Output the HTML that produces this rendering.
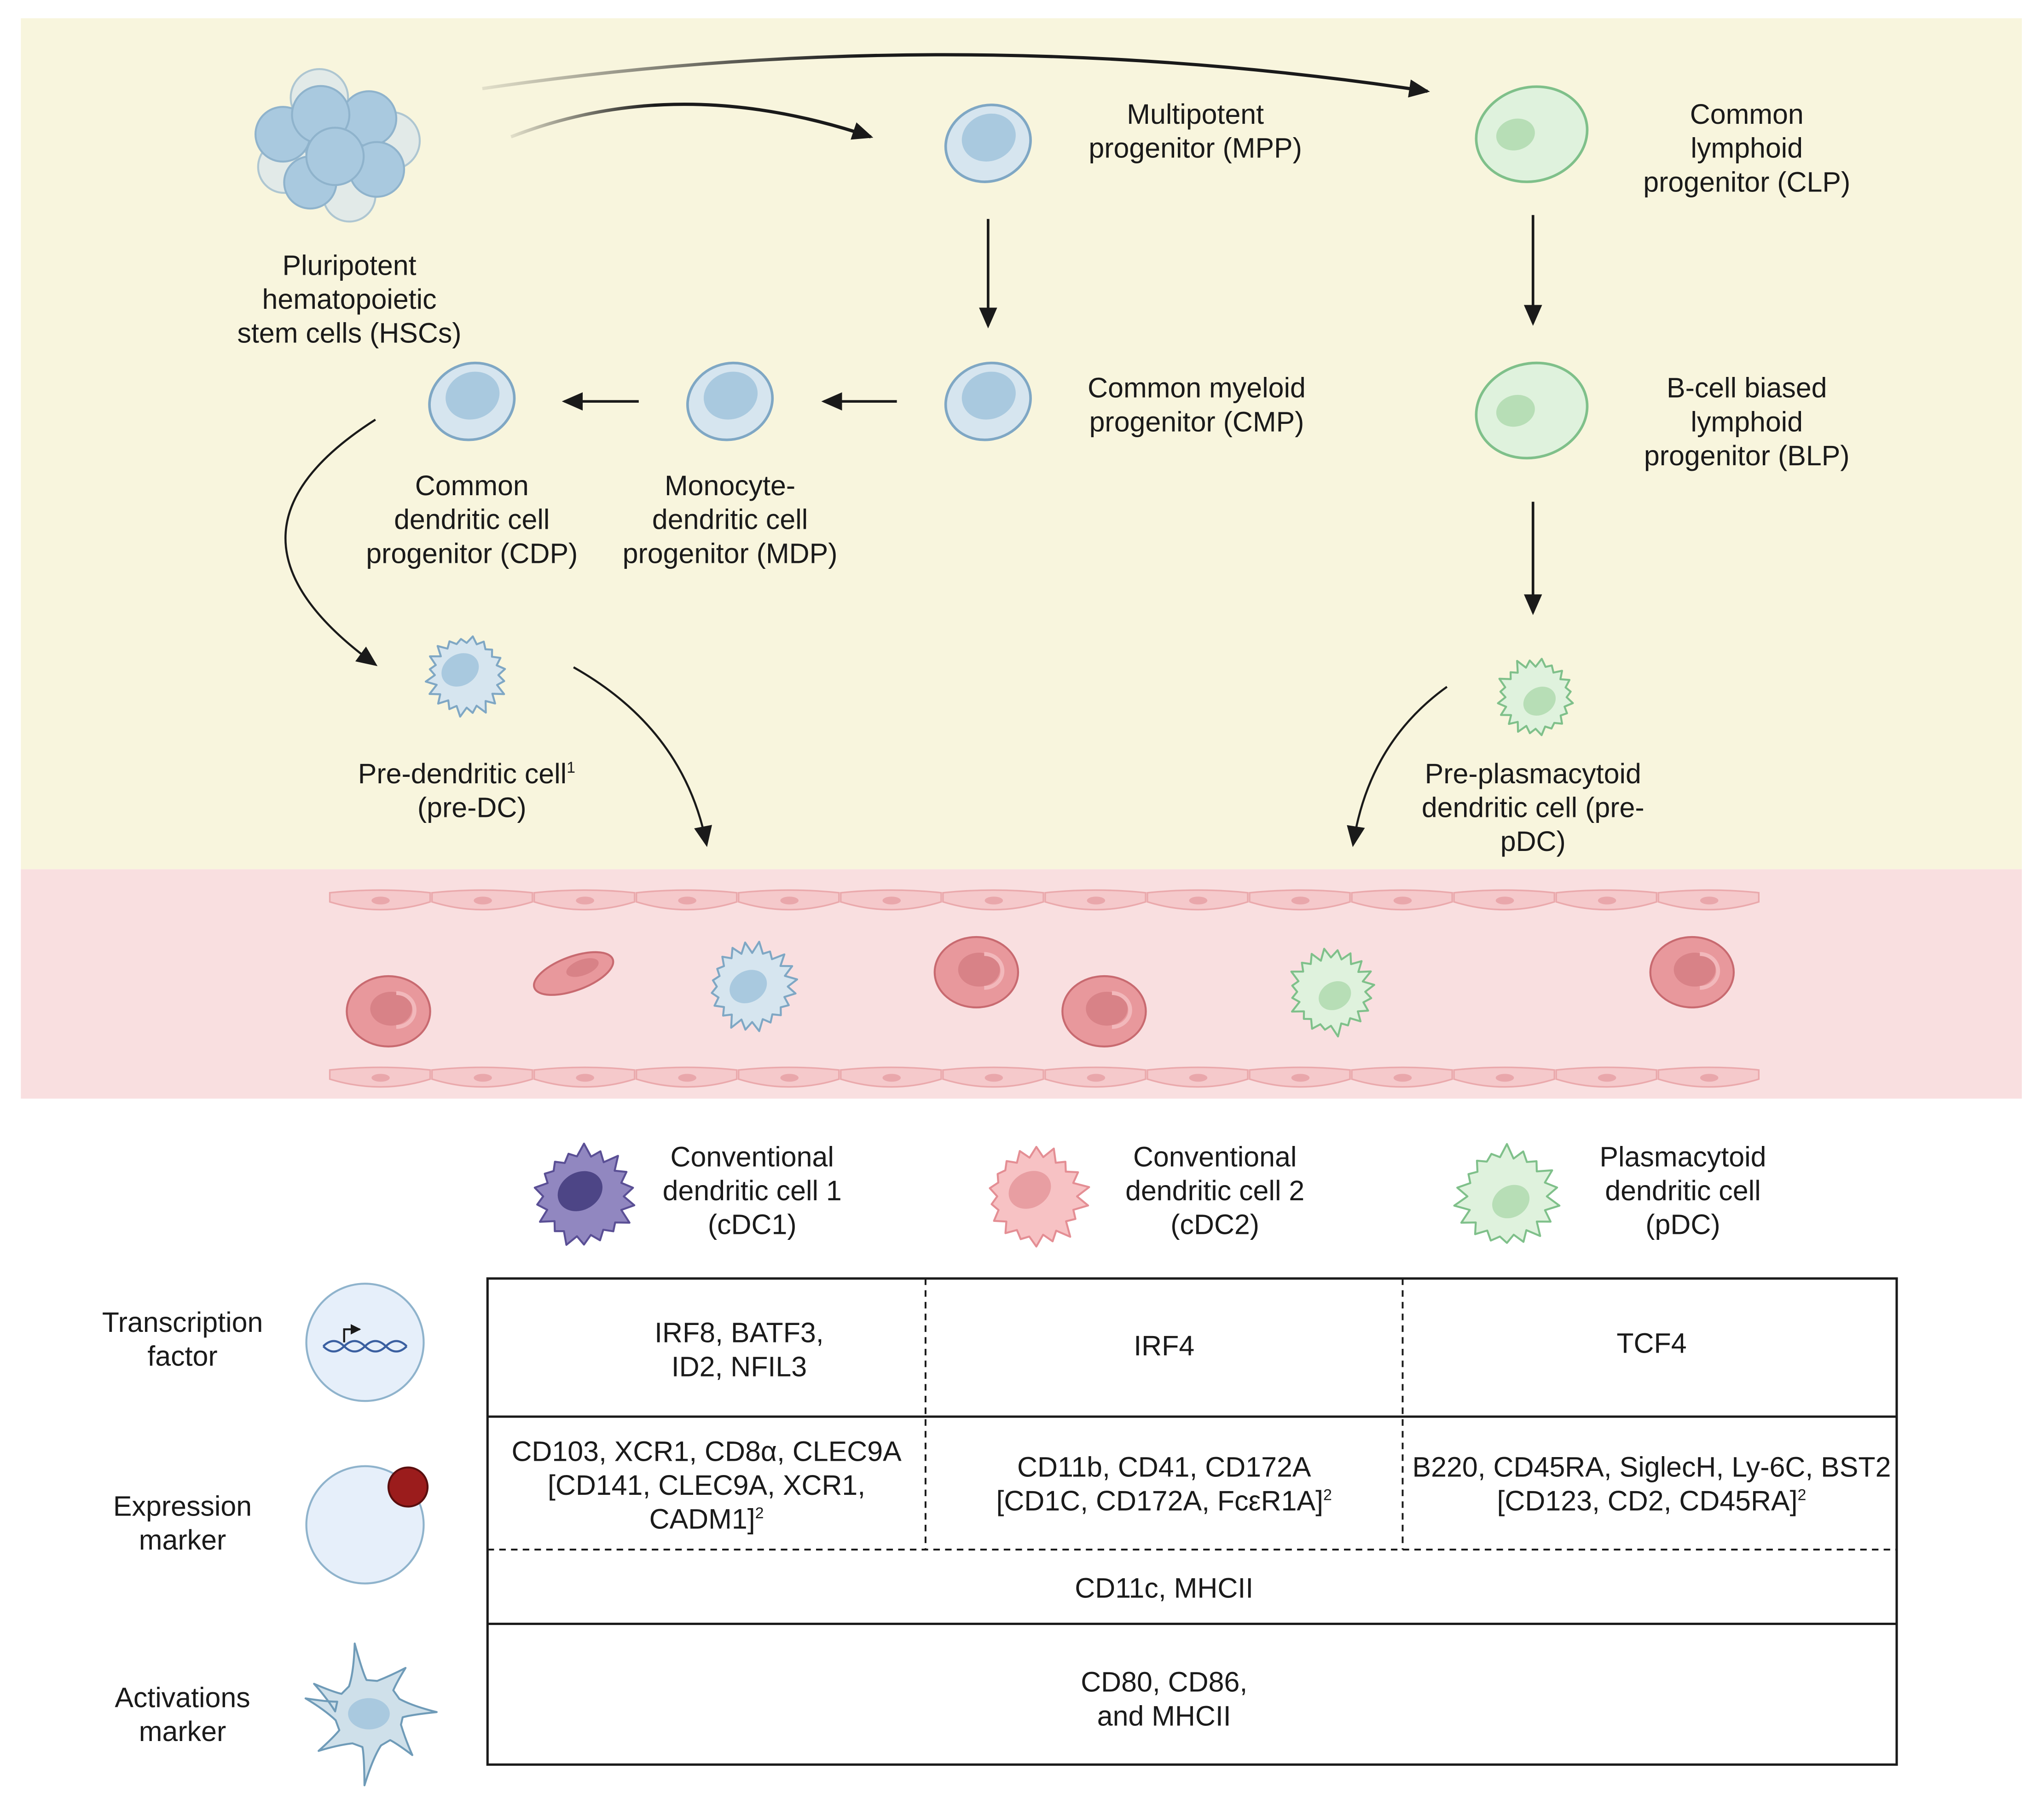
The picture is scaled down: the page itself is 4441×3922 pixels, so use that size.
<!DOCTYPE html>
<html><head><meta charset="utf-8"><style>
html,body{margin:0;padding:0;background:#fff}
svg{display:block}
text{font-family:"Liberation Sans",sans-serif;font-size:21.5px;fill:#1a1a1a}
</style></head><body>
<svg id="s" width="4441" height="3922" viewBox="0 0 1568 1385" preserveAspectRatio="none" xmlns="http://www.w3.org/2000/svg">
<defs>
<marker id="ah" markerWidth="8" markerHeight="8" refX="7" refY="4" orient="auto" markerUnits="userSpaceOnUse"><path d="M0,0 L8,4 L0,8 Z" fill="#1a1a1a"/></marker>
<marker id="ah2" markerWidth="16" markerHeight="14" refX="14" refY="7" orient="auto" markerUnits="userSpaceOnUse"><path d="M0,0 L16,7 L0,14 Z" fill="#1a1a1a"/></marker>
<linearGradient id="g1" x1="0" x2="1"><stop offset="0" stop-color="#1a1a1a" stop-opacity="0.1"/><stop offset="0.4" stop-color="#1a1a1a"/></linearGradient>
</defs>
<rect x="16" y="14" width="1535" height="653" fill="#f8f5dd"/>
<rect x="16" y="667" width="1535" height="176" fill="#f9dfe0"/>

<g stroke="#8fb3cc" stroke-width="1.5">
<circle cx="245" cy="75" r="22" fill="#d9e6ee" opacity=".7"/>
<circle cx="300" cy="108" r="22" fill="#d9e6ee" opacity=".7"/>
<circle cx="268" cy="150" r="20" fill="#d9e6ee" opacity=".7"/>
<circle cx="218" cy="128" r="20" fill="#d9e6ee" opacity=".7"/>
<circle cx="217" cy="103" r="21" fill="#a9c9df"/>
<circle cx="283" cy="91" r="21" fill="#a9c9df"/>
<circle cx="246" cy="88" r="22" fill="#a9c9df"/>
<circle cx="238" cy="140" r="20" fill="#a9c9df"/>
<circle cx="289" cy="130" r="21" fill="#a9c9df"/>
<circle cx="257" cy="120" r="22" fill="#a9c9df"/>
</g>

<path d="M370,68 Q730,15 1095,70" fill="none" stroke="url(#g1)" stroke-width="2.5" marker-end="url(#ah2)"/>
<path d="M392,105 Q520,55 668,105" fill="none" stroke="url(#g1)" stroke-width="2.5" marker-end="url(#ah2)"/>
<g stroke="#1a1a1a" stroke-width="2" fill="none">
<path d="M758,168 V250" marker-end="url(#ah2)"/>
<path d="M1176,165 V248" marker-end="url(#ah2)"/>
<path d="M1176,385 V470" marker-end="url(#ah2)"/>
<path d="M688,308 H632" marker-end="url(#ah2)"/>
<path d="M490,308 H433" marker-end="url(#ah2)"/>
<path d="M288,322 Q150,410 288,510" marker-end="url(#ah2)" stroke-width="1.6"/>
<path d="M440,512 Q525,560 542,648" marker-end="url(#ah2)" stroke-width="1.6"/>
<path d="M1110,527 Q1050,570 1038,648" marker-end="url(#ah2)" stroke-width="1.6"/>
</g>

<g stroke="#7fa7c4" stroke-width="2">
<g transform="translate(758,110) rotate(-20)"><ellipse rx="33" ry="29" fill="#d6e5ef"/><ellipse cx="2" cy="-4" rx="21" ry="18" fill="#a9c9df" stroke="none"/></g>
<g transform="translate(758,308) rotate(-20)"><ellipse rx="33" ry="29" fill="#d6e5ef"/><ellipse cx="2" cy="-4" rx="21" ry="18" fill="#a9c9df" stroke="none"/></g>
<g transform="translate(560,308) rotate(-20)"><ellipse rx="33" ry="29" fill="#d6e5ef"/><ellipse cx="2" cy="-4" rx="21" ry="18" fill="#a9c9df" stroke="none"/></g>
<g transform="translate(362,308) rotate(-20)"><ellipse rx="33" ry="29" fill="#d6e5ef"/><ellipse cx="2" cy="-4" rx="21" ry="18" fill="#a9c9df" stroke="none"/></g>
</g>
<g stroke="#7fc08a" stroke-width="2">
<g transform="translate(1175,103) rotate(-15)"><ellipse rx="43" ry="36" fill="#dff2dd"/><ellipse cx="-12" cy="-3" rx="15" ry="12" fill="#b7deb6" stroke="none"/></g>
<g transform="translate(1175,315) rotate(-15)"><ellipse rx="43" ry="36" fill="#dff2dd"/><ellipse cx="-12" cy="-3" rx="15" ry="12" fill="#b7deb6" stroke="none"/></g>
</g>

<g id="spiky"></g>
<g id="endo" fill="#f5c9cb" stroke="#eaa9ac" stroke-width="1.2"></g>

<g stroke="#c86a70" stroke-width="1.5">
<g transform="translate(298,776)"><ellipse rx="32" ry="27" fill="#e8989c"/><ellipse cx="2" cy="-2" rx="16" ry="13" fill="#d88287" stroke="none"/><path d="M6,-14 a14,13 0 0 1 0,26" fill="none" stroke="#f2b8bb" stroke-width="3"/></g>
<g transform="translate(440,747) rotate(-20)"><ellipse rx="32" ry="13" fill="#e8989c"/><ellipse cx="8" cy="-2" rx="13" ry="6" fill="#d88287" stroke="none"/></g>
<g transform="translate(749,746)"><ellipse rx="32" ry="27" fill="#e8989c"/><ellipse cx="2" cy="-2" rx="16" ry="13" fill="#d88287" stroke="none"/><path d="M6,-14 a14,13 0 0 1 0,26" fill="none" stroke="#f2b8bb" stroke-width="3"/></g>
<g transform="translate(847,776)"><ellipse rx="32" ry="27" fill="#e8989c"/><ellipse cx="2" cy="-2" rx="16" ry="13" fill="#d88287" stroke="none"/><path d="M6,-14 a14,13 0 0 1 0,26" fill="none" stroke="#f2b8bb" stroke-width="3"/></g>
<g transform="translate(1298,746)"><ellipse rx="32" ry="27" fill="#e8989c"/><ellipse cx="2" cy="-2" rx="16" ry="13" fill="#d88287" stroke="none"/><path d="M6,-14 a14,13 0 0 1 0,26" fill="none" stroke="#f2b8bb" stroke-width="3"/></g>
</g>

<g text-anchor="middle">
<text x="268" y="211">Pluripotent</text><text x="268" y="237">hematopoietic</text><text x="268" y="263">stem cells (HSCs)</text>
<text x="917" y="95">Multipotent</text><text x="917" y="121">progenitor (MPP)</text>
<text x="1340" y="95">Common</text><text x="1340" y="121">lymphoid</text><text x="1340" y="147">progenitor (CLP)</text>
<text x="918" y="305">Common myeloid</text><text x="918" y="331">progenitor (CMP)</text>
<text x="1340" y="305">B-cell biased</text><text x="1340" y="331">lymphoid</text><text x="1340" y="357">progenitor (BLP)</text>
<text x="362" y="380">Common</text><text x="362" y="406">dendritic cell</text><text x="362" y="432">progenitor (CDP)</text>
<text x="560" y="380">Monocyte-</text><text x="560" y="406">dendritic cell</text><text x="560" y="432">progenitor (MDP)</text>
<text x="358" y="601">Pre-dendritic cell<tspan font-size="12" dy="-8">1</tspan></text><text x="362" y="627">(pre-DC)</text>
<text x="1176" y="601">Pre-plasmacytoid</text><text x="1176" y="627">dendritic cell (pre-</text><text x="1176" y="653">pDC)</text>
<text x="577" y="895">Conventional</text><text x="577" y="921">dendritic cell 1</text><text x="577" y="947">(cDC1)</text>
<text x="932" y="895">Conventional</text><text x="932" y="921">dendritic cell 2</text><text x="932" y="947">(cDC2)</text>
<text x="1291" y="895">Plasmacytoid</text><text x="1291" y="921">dendritic cell</text><text x="1291" y="947">(pDC)</text>
<text x="140" y="1022">Transcription</text><text x="140" y="1048">factor</text>
<text x="140" y="1163">Expression</text><text x="140" y="1189">marker</text>
<text x="140" y="1310">Activations</text><text x="140" y="1336">marker</text>
</g>

<circle cx="280" cy="1030" r="45" fill="#e6effa" stroke="#8fb3cc" stroke-width="1.5"/>
<path d="M248,1033 q8,-8 16,0 t16,0 t16,0 t16,0 M248,1033 q8,8 16,0 t16,0 t16,0 t16,0" fill="none" stroke="#3a5fa0" stroke-width="1.6"/>
<path d="M264,1030 v-10 h12" fill="none" stroke="#1a1a1a" stroke-width="1.5" marker-end="url(#ah)"/>
<circle cx="280" cy="1170" r="45" fill="#e6effa" stroke="#8fb3cc" stroke-width="1.5"/>
<circle cx="313" cy="1141" r="15" fill="#9b1c1c" stroke="#5a0e0e" stroke-width="1.5"/>

<g id="act"></g>

<g fill="none" stroke="#1a1a1a" stroke-width="1.8">
<rect x="374" y="981" width="1081" height="373"/>
<line x1="374" y1="1087" x2="1455" y2="1087"/>
<line x1="374" y1="1246" x2="1455" y2="1246"/>
<g stroke-dasharray="5,4" stroke-width="1.4">
<line x1="374" y1="1189" x2="1455" y2="1189"/>
<line x1="710" y1="981" x2="710" y2="1189"/>
<line x1="1076" y1="981" x2="1076" y2="1189"/>
</g>
</g>
<g text-anchor="middle">
<text x="567" y="1030">IRF8, BATF3,</text><text x="567" y="1056">ID2, NFIL3</text>
<text x="893" y="1040">IRF4</text>
<text x="1267" y="1038">TCF4</text>
<text x="542" y="1121">CD103, XCR1, CD8α, CLEC9A</text><text x="542" y="1147">[CD141, CLEC9A, XCR1,</text><text x="542" y="1173">CADM1]<tspan font-size="12" dy="-8">2</tspan></text>
<text x="893" y="1133">CD11b, CD41, CD172A</text><text x="893" y="1159">[CD1C, CD172A, FcεR1A]<tspan font-size="12" dy="-8">2</tspan></text>
<text x="1267" y="1133">B220, CD45RA, SiglecH, Ly-6C, BST2</text><text x="1267" y="1159">[CD123, CD2, CD45RA]<tspan font-size="12" dy="-8">2</tspan></text>
<text x="893" y="1226">CD11c, MHCII</text>
<text x="893" y="1298">CD80, CD86,</text><text x="893" y="1324">and MHCII</text>
</g>
</svg>
<script>
var NS="http://www.w3.org/2000/svg";
function el(p,t,a){var e=document.createElementNS(NS,t);for(var k in a)e.setAttribute(k,a[k]);p.appendChild(e);return e;}
var en=document.getElementById('endo');
for(var i=0;i<14;i++){var x=253+i*78.4;
 [690,826].forEach(function(y){
 el(en,'path',{d:'M'+x+','+(y-5)+' Q'+(x+39)+','+(y-9)+' '+(x+77)+','+(y-5)+' L'+(x+77)+','+(y+2)+' Q'+(x+39)+','+(y+14)+' '+x+','+(y+2)+' Z'});
 el(en,'ellipse',{cx:x+39,cy:y+1,rx:7,ry:3,fill:'#e9a7ab',stroke:'none'});
 });}
function spiky(cx,cy,r,n,fill,stroke,nfill,nx,ny,nr,seed,spk){
 var g=document.getElementById('spiky');var d='';var s=seed;
 function rnd(){s=(s*9301+49297)%233280;return s/233280;}
 for(var i=0;i<n;i++){var a0=i/n*2*Math.PI,a1=(i+0.5)/n*2*Math.PI;
  var ro=r+spk*(0.3+rnd());var ri=r*(0.92+0.06*rnd());
  d+=(i?'L':'M')+(cx+ri*Math.cos(a0)).toFixed(1)+','+(cy+ri*Math.sin(a0)).toFixed(1)+' L'+(cx+ro*Math.cos(a1)).toFixed(1)+','+(cy+ro*Math.sin(a1)).toFixed(1)+' ';}
 el(g,'path',{d:d+'Z',fill:fill,stroke:stroke,'stroke-width':1.5,'stroke-linejoin':'round'});
 el(g,'ellipse',{cx:cx+nx,cy:cy+ny,rx:nr,ry:nr*0.8,fill:nfill,transform:'rotate(-30 '+(cx+nx)+' '+(cy+ny)+')'});
}
spiky(358,518,26,20,'#d6e5ef','#7fa7c4','#a9c9df',-5,-4,15,3,5);
spiky(1178,535,25,20,'#dff2dd','#7fc08a','#b7deb6',3,3,13,7,5);
spiky(577,757,28,20,'#d6e5ef','#7fa7c4','#a9c9df',-3,0,15,11,6);
spiky(1021,761,27,20,'#dff2dd','#7fc08a','#b7deb6',3,3,13,5,6);
spiky(448,918,32,18,'#9187c0','#5a4f95','#4d4586',-3,-4,18,13,7);
spiky(795,918,32,18,'#f7c2c4','#e48e94','#e89ea2',-5,-5,17,17,7);
spiky(1156,918,32,18,'#dff2dd','#7fc08a','#b7deb6',3,4,15,19,7);
// activation cell with long arms
(function(){var g=document.getElementById('act');var cx=283,cy=1315;
 var arms=[[-160,48],[-110,55],[-60,45],[-10,52],[35,46],[85,55],[135,48],[185,50]];var d='';var r=26;
 arms.forEach(function(a,i){var t=a[0]*Math.PI/180,L=a[1];var w=0.28;
  var b1=[cx+r*Math.cos(t-w),cy+r*Math.sin(t-w)],b2=[cx+r*Math.cos(t+w),cy+r*Math.sin(t+w)];
  var tip=[cx+L*Math.cos(t+0.15),cy+L*Math.sin(t+0.15)];
  d+=(i?'L':'M')+b1[0].toFixed(1)+','+b1[1].toFixed(1)+' Q'+(cx+(r+8)*Math.cos(t)).toFixed(1)+','+(cy+(r+8)*Math.sin(t)).toFixed(1)+' '+tip[0].toFixed(1)+','+tip[1].toFixed(1)+' Q'+(cx+(r+6)*Math.cos(t+0.2)).toFixed(1)+','+(cy+(r+6)*Math.sin(t+0.2)).toFixed(1)+' '+b2[0].toFixed(1)+','+b2[1].toFixed(1)+' ';
 });
 el(g,'path',{d:d+'Z',fill:'#cfe0ea',stroke:'#6f9bb8','stroke-width':1.5,'stroke-linejoin':'round'});
 el(g,'ellipse',{cx:cx,cy:cy,rx:16,ry:12,fill:'#a9c9df'});
})();
</script>
</body></html>
